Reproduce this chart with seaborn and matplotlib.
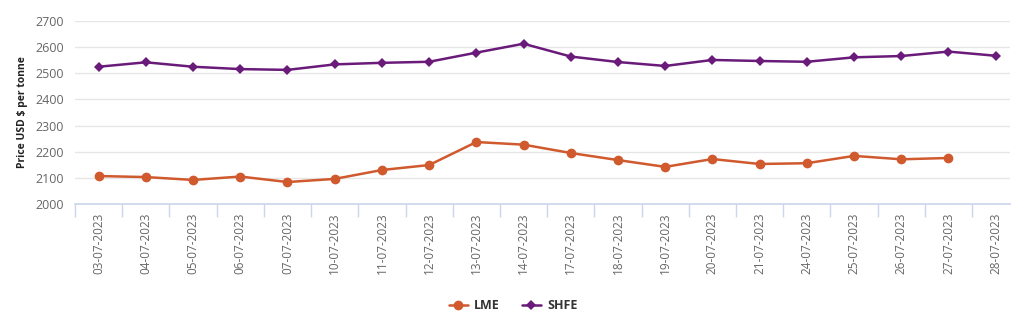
import numpy as np
import pandas as pd
import matplotlib
matplotlib.use("Agg")
import matplotlib.pyplot as plt
import seaborn as sns
from matplotlib.ticker import FixedLocator

dates = ["03-07-2023", "04-07-2023", "05-07-2023", "06-07-2023", "07-07-2023",
         "10-07-2023", "11-07-2023", "12-07-2023", "13-07-2023", "14-07-2023",
         "17-07-2023", "18-07-2023", "19-07-2023", "20-07-2023", "21-07-2023",
         "24-07-2023", "25-07-2023", "26-07-2023", "27-07-2023", "28-07-2023"]
lme = [2107, 2103, 2092, 2105, 2084, 2096, 2130, 2149, 2237, 2227,
       2195, 2168, 2142, 2172, 2153, 2156, 2184, 2171, 2176, np.nan]
shfe = [2525, 2542, 2525, 2516, 2513, 2534, 2540, 2544, 2579, 2613,
        2564, 2543, 2528, 2551, 2547, 2544, 2561, 2566, 2583, 2567]
yticks = [2000, 2100, 2200, 2300, 2400, 2500, 2600, 2700]

sns.set_theme(style="white")
plt.rcParams['font.family'] = ['Open Sans', 'DejaVu Sans']

df = pd.DataFrame({"date": dates * 2,
                   "price": lme + shfe,
                   "series": ["LME"] * len(dates) + ["SHFE"] * len(dates)})
df["x"] = list(range(len(dates))) * 2

fig = plt.figure(figsize=(10.18, 3.21), dpi=100)
ax = fig.add_axes([0.0737, 0.3645, 0.9183, 0.5701])

colors = {"LME": "#d0592e", "SHFE": "#6a1b7a"}
sns.lineplot(data=df[df.series == "LME"], x="x", y="price", color=colors["LME"],
             marker="o", markersize=7, markeredgewidth=0, linewidth=1.8, ax=ax, label="LME")
sns.lineplot(data=df[df.series == "SHFE"], x="x", y="price", color=colors["SHFE"],
             marker="D", markersize=5, markeredgewidth=0, linewidth=1.8, ax=ax, label="SHFE")

ax.set_xlim(-0.5, 19.3)
ax.set_ylim(2000, 2700)
ax.set_yticks(yticks)
ax.set_yticklabels([str(v) for v in yticks], color="#666666", fontsize=9)
ax.set_xticks(range(len(dates)))
ax.set_xticklabels(dates, rotation=90, color="#666666", fontsize=8.5)
ax.xaxis.set_minor_locator(FixedLocator([i - 0.5 for i in range(len(dates))]))
ax.tick_params(axis="x", which="major", length=0, pad=6)
ax.tick_params(axis="x", which="minor", length=9, width=1, color="#ccd6eb", bottom=True)
ax.tick_params(axis="y", length=0, pad=8)
ax.grid(axis="y", color="#e6e6e6", linewidth=1)
ax.set_axisbelow(True)
for s in ["top", "right", "left"]:
    ax.spines[s].set_visible(False)
ax.spines["bottom"].set_color("#ccd6eb")
ax.set_xlabel("")
ax.set_ylabel("Price USD $ per tonne", fontsize=7.5, fontweight="bold", color="#222222", labelpad=5)

leg = ax.legend(loc="center", bbox_to_anchor=(0.504, 0.047), bbox_transform=fig.transFigure,
                ncol=2, frameon=False, fontsize=9, handlelength=1.5, columnspacing=1.8,
                handletextpad=0.5)
for t in leg.get_texts():
    t.set_color("#333333")
    t.set_fontweight("bold")

fig.savefig("out.png", dpi=100)
